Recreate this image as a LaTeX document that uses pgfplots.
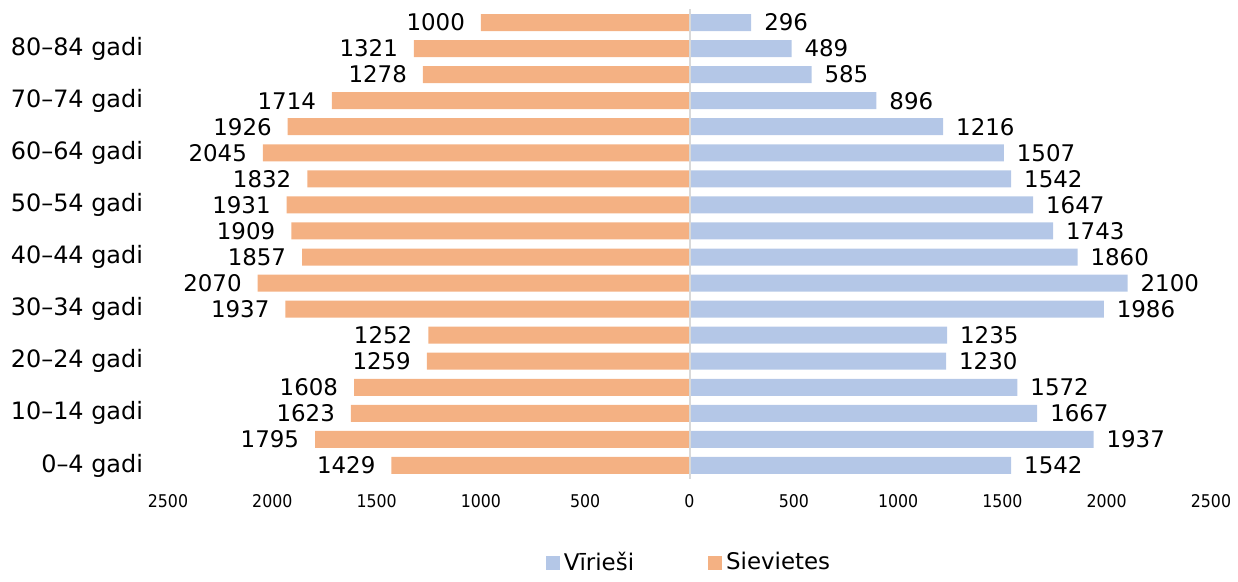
\documentclass[border=0pt]{standalone}
\usepackage{fontspec}
\setmainfont{DejaVu Sans}
\newfontfamily\condfont{DejaVu Sans Condensed}
\usepackage{pgfplots}
\usepackage{pgfplotstable}
\pgfplotsset{compat=1.18}
\definecolor{vir}{HTML}{B4C7E7}
\definecolor{siev}{HTML}{F4B183}
\definecolor{zeroline}{HTML}{D9D9D9}

% y: age group index (0 = 0-4 gadi ... 17 = 85+), f: Sievietes, m: Vīrieši
\pgfplotstableread{
y f m
0 1429 1542
1 1795 1937
2 1623 1667
3 1608 1572
4 1259 1230
5 1252 1235
6 1937 1986
7 2070 2100
8 1857 1860
9 1909 1743
10 1931 1647
11 1832 1542
12 2045 1507
13 1926 1216
14 1714 896
15 1278 585
16 1321 489
17 1000 296
}\pyramid

\begin{document}
\begin{tikzpicture}
\begin{axis}[
  name=ax,
  width=521.5bp, height=234.5bp, scale only axis,
  xbar, bar width=8.5bp, bar shift=0pt,
  xmin=-2500, xmax=2500, ymin=-0.5, ymax=17.5,
  enlargelimits=false,
  axis line style={draw=none},
  major tick length=0pt,
  xtick={-2500,-2000,...,2500},
  xticklabel={\pgfmathparse{abs(\tick)}\pgfmathprintnumber{\pgfmathresult}},
  xticklabel style={font=\condfont\fontsize{8.8}{10.5}\selectfont, yshift=-4.5bp},
  ytick={0,2,...,16},
  yticklabels={0–4 gadi,10–14 gadi,20–24 gadi,30–34 gadi,40–44 gadi,50–54 gadi,60–64 gadi,70–74 gadi,80–84 gadi},
  yticklabel style={font=\fontsize{12}{14}\selectfont, xshift=-9bp},
  /pgf/number format/.cd, 1000 sep={}, assume math mode=true, fixed, precision=0, /pgfplots/.cd,
  nodes near coords, point meta=explicit,
  nodes near coords style={font=\fontsize{11.5}{13}\selectfont, text=black},
  legend style={at={(0.5005,-0.179)}, anchor=center, draw=none,
    legend columns=2, font=\fontsize{11.5}{13}\selectfont,
    /tikz/every even column/.append style={column sep=35bp}},
  legend image code/.code={\fill[#1] (0bp,-4bp) rectangle (7bp,3bp);},
  clip=false,
]
\addplot[fill=vir, draw=none, nodes near coords style={anchor=west, xshift=3bp}]
  table[x=m, y=y, meta=m] {\pyramid};
\addplot[fill=siev, draw=none, nodes near coords style={anchor=east, xshift=-4.5bp}]
  table[x expr=-\thisrow{f}, y=y, meta=f] {\pyramid};
\legend{Vīrieši, Sievietes}
\draw[zeroline, line width=1bp] (axis cs:0,-0.5) -- (axis cs:0,17.5);
\end{axis}
\path ([xshift=-84bp,yshift=-48.5bp]ax.south west) rectangle ([xshift=13.5bp,yshift=4.75bp]ax.north east);
\end{tikzpicture}
\end{document}
